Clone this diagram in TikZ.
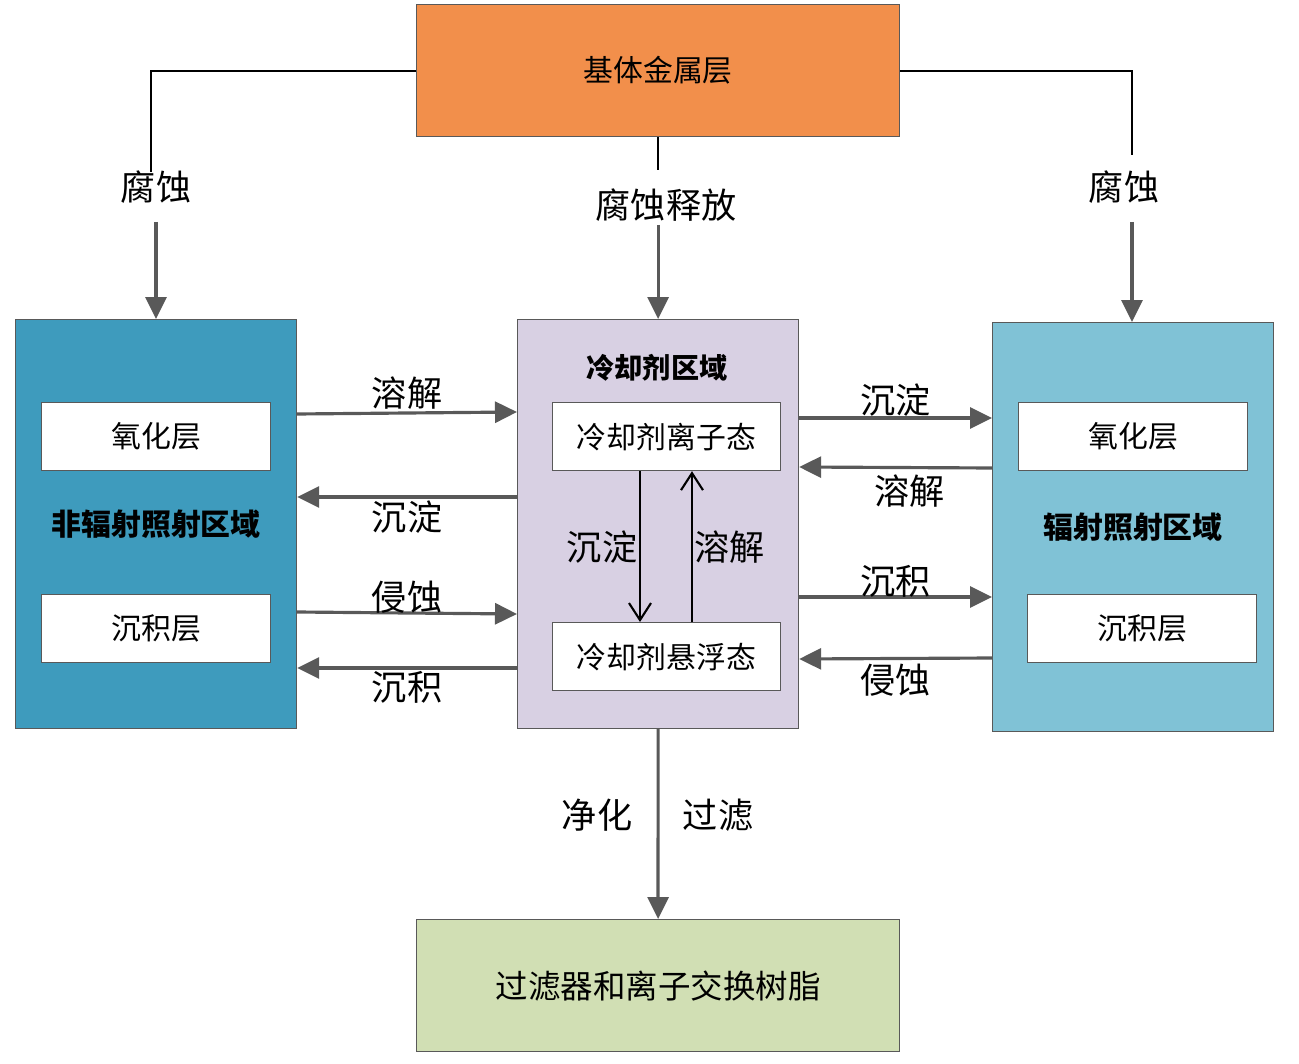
\documentclass[tikz,border=0pt]{standalone}
\usepackage{fontspec}
\setmainfont{Noto Sans CJK SC}
\usetikzlibrary{arrows.meta}

\definecolor{metal}{RGB}{242,143,75}
\definecolor{nonrad}{RGB}{62,155,189}
\definecolor{coolant}{RGB}{216,208,227}
\definecolor{rad}{RGB}{128,194,214}
\definecolor{resin}{RGB}{209,223,180}
\definecolor{arrowgray}{RGB}{89,89,89}

\begin{document}
\begin{tikzpicture}[x=0.02cm,y=-0.02cm,
  zone/.style={draw=black!65, line width=0.7pt, inner sep=0pt, anchor=north west},
  bigzone/.style={zone, minimum width=5.62cm, minimum height=8.18cm},
  widezone/.style={zone, minimum width=9.66cm, minimum height=2.64cm},
  layer/.style={zone, fill=white, minimum width=4.58cm, minimum height=1.36cm, font=\fontsize{17}{20}\selectfont},
  lbl/.style={inner sep=0pt, font=\fontsize{20}{24}\selectfont},
  flow/.style={draw=arrowgray, line width=1.8pt, -{Triangle[length=0.44cm,width=0.42cm]}},
  link/.style={draw=black, line width=1.1pt},
  step arrow/.style={draw=black, line width=1.2pt, -{Straight Barb[length=0.34cm,width=0.44cm]}}]
\useasboundingbox (0,0) rectangle (1299,1064);

% zones
\node[widezone, fill=metal, font=\fontsize{17}{20}\selectfont] (metal) at (416,4) {基体金属层};
\node[bigzone, fill=nonrad, font=\bfseries\fontsize{17}{20}\selectfont] (left) at (15,319) {非辐射照射区域};
\node[bigzone, fill=coolant] (mid) at (517,319) {};
\node[bigzone, fill=rad, font=\bfseries\fontsize{17}{20}\selectfont] (right) at (992,322) {辐射照射区域};
\node[widezone, fill=resin, font=\fontsize{18.5}{22}\selectfont] (resin) at (416,919) {过滤器和离子交换树脂};
\node[font=\bfseries\fontsize{16}{19}\selectfont] (midtitle) at (657,368) {冷却剂区域};

% layers
\node[layer] (loxide) at (41,402) {氧化层};
\node[layer] (ldep) at (41,594) {沉积层};
\node[layer] (roxide) at (1018,402) {氧化层};
\node[layer] (rdep) at (1027,594) {沉积层};
\node[layer, minimum width=4.56cm] (ion) at (552,402) {冷却剂离子态};
\node[layer, minimum width=4.56cm] (susp) at (552,622) {冷却剂悬浮态};

% corrosion from the metal layer
\node[lbl] (corrl) at (156,187) {腐蚀};
\node[lbl] (corrm) at (666,205) {腐蚀释放};
\node[lbl] (corrr) at (1124,187) {腐蚀};
\draw[link] (metal.west) -| (151,172);
\draw[link] (metal.east) -| (1132,155);
\draw[link] (metal.south) -- (metal.south |- 0,170);
\draw[flow] (156,222) -- (left.north -| 156,0);
\draw[flow] (mid.north |- 0,225) -- (mid.north);
\draw[flow] (1132,222) -- (right.north -| 1132,0);

% left <-> coolant
\draw[flow] (left.east |- 0,414) -- node[lbl, above=1pt] {溶解} (mid.west |- 0,412);
\draw[flow] (mid.west |- 0,497) -- node[lbl, below=1pt] {沉淀} (left.east |- 0,497);
\draw[flow] (left.east |- 0,612) -- node[lbl, above=-1pt] {侵蚀} (mid.west |- 0,614);
\draw[flow] (mid.west |- 0,668) -- node[lbl, below=1pt] {沉积} (left.east |- 0,668);

% coolant <-> right
\draw[flow] (mid.east |- 0,418) -- node[lbl, above=0pt] {沉淀} (right.west |- 0,418);
\draw[flow] (right.west |- 0,468) -- node[lbl, below=3pt, xshift=8] {溶解} (mid.east |- 0,467);
\draw[flow] (mid.east |- 0,597) -- node[lbl, above=-1pt] {沉积} (right.west |- 0,597);
\draw[flow] (right.west |- 0,658) -- node[lbl, below=2pt] {侵蚀} (mid.east |- 0,659);

% inside the coolant zone
\draw[step arrow] (ion.south -| 640,0) -- node[lbl, left=1pt] {沉淀} (susp.north -| 640,0);
\draw[step arrow] (susp.north -| 692,0) -- node[lbl, right=1pt] {溶解} (ion.south -| 692,0);

% purification
\draw[flow] (mid.south) -- (resin.north);
\node[lbl] (purify) at (597,815) {净化};
\node[lbl] (filter) at (718,815) {过滤};
\end{tikzpicture}
\end{document}
